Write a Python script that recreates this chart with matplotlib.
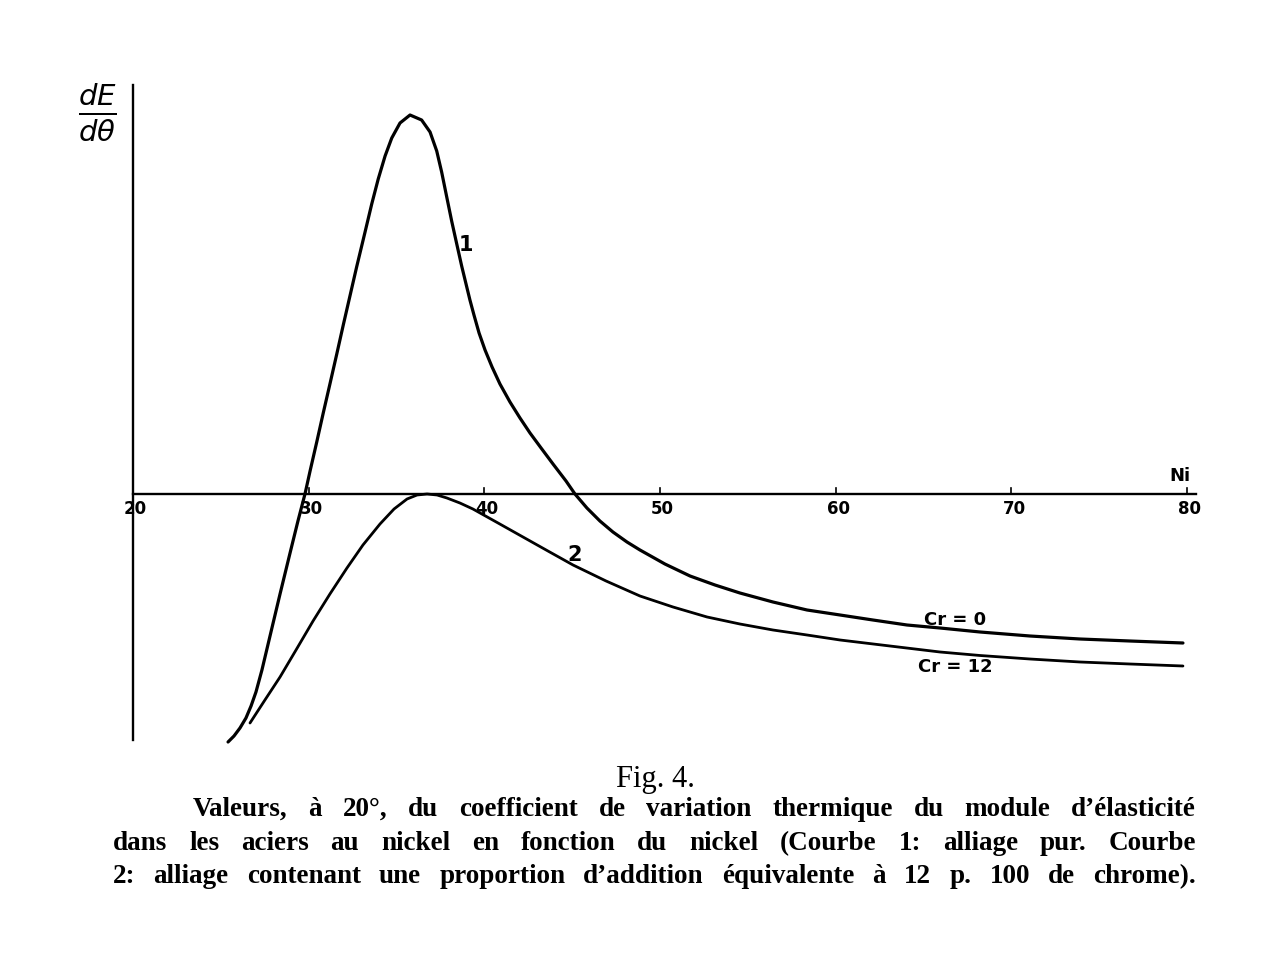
import numpy as np
import matplotlib.pyplot as plt

# curve 1: pure alloy (Cr = 0), Ni in %, dE/dtheta in arbitrary units
ni_1 = [25.41, 25.75, 26.09, 26.43, 26.72, 27.00, 27.34, 27.80, 28.37, 28.94, 29.39,
        29.79, 30.08, 30.46, 30.83, 31.21, 31.60, 31.97, 32.35, 32.73, 33.21, 33.59,
        33.96, 34.35, 34.73, 35.20, 35.77, 36.43, 36.91, 37.29, 37.57, 37.86, 38.14,
        38.43, 38.71, 39.00, 39.18, 39.41, 39.70, 40.04, 40.44, 40.89, 41.46, 42.03,
        42.60, 43.23, 43.91, 44.65, 45.16, 45.84, 46.58, 47.32, 48.12, 48.86, 50.28,
        51.71, 53.13, 54.55, 56.43, 58.37, 60.25, 62.12, 64.06, 65.94, 68.22, 71.06,
        73.91, 76.75, 79.77]
de_1 = [-2.48, -2.42, -2.34, -2.24, -2.12, -1.98, -1.76, -1.42, -1.00, -0.59, -0.27,
        0.00, 0.23, 0.52, 0.81, 1.10, 1.40, 1.69, 1.98, 2.27, 2.62, 2.90,
        3.15, 3.38, 3.56, 3.71, 3.79, 3.74, 3.62, 3.43, 3.22, 2.97, 2.73,
        2.50, 2.28, 2.07, 1.94, 1.79, 1.61, 1.44, 1.27, 1.10, 0.92, 0.76,
        0.61, 0.46, 0.30, 0.13, 0.00, -0.14, -0.27, -0.38, -0.48, -0.56, -0.70,
        -0.82, -0.91, -0.99, -1.08, -1.16, -1.21, -1.26, -1.31, -1.34, -1.38, -1.42,
        -1.45, -1.47, -1.49]

# curve 2: alloy with 12 p. 100 chrome
ni_2 = [26.66, 27.51, 28.37, 29.28, 30.25, 31.21, 32.18, 33.09, 34.06, 34.86, 35.60,
        36.17, 36.74, 37.31, 37.87, 38.61, 39.35, 40.78, 42.20, 43.62, 45.05, 46.93,
        48.86, 50.74, 52.68, 54.55, 56.43, 58.37, 60.25, 63.09, 65.94, 68.22, 71.06,
        73.91, 76.75, 79.77]
de_2 = [-2.29, -2.06, -1.83, -1.56, -1.27, -1.00, -0.74, -0.51, -0.30, -0.15, -0.05,
        -0.01, 0.00, -0.01, -0.04, -0.09, -0.15, -0.29, -0.43, -0.57, -0.71, -0.87,
        -1.02, -1.13, -1.23, -1.30, -1.36, -1.41, -1.46, -1.52, -1.58, -1.615, -1.65,
        -1.68, -1.70, -1.72]

xticks = [20, 30, 40, 50, 60, 70, 80]

caption = [
    "Valeurs, à 20°, du coefficient de variation thermique du module d’élasticité",
    "dans les aciers au nickel en fonction du nickel (Courbe 1: alliage pur. Courbe",
    "2: alliage contenant une proportion d’addition équivalente à 12 p. 100 de chrome).",
]

W, H = 1280, 969
fig = plt.figure(figsize=(W / 100, H / 100), dpi=100)
ax = fig.add_axes([133 / W, 1 - 740 / H, (1187 - 133) / W, (740 - 85) / H])
ax.set_xlim(20, 80)
ax.set_ylim(-2.46, 4.09)
ax.axis('off')

# axes drawn by hand
ax.plot([20, 80.5], [0, 0], color='black', lw=1.7, clip_on=False)
ax.plot([20, 20], [-2.46, 4.09], color='black', lw=1.7, clip_on=False)
for t in xticks[1:]:
    ax.plot([t, t], [0, 0.06], color='black', lw=1.2, clip_on=False)

hand = dict(family='DejaVu Sans', fontweight='bold', color='black')
for t in xticks:
    ax.text(t + 0.15, -0.15, str(t), ha='center', va='center', fontsize=12, **hand)
ax.text(79.6, 0.18, "Ni", ha='center', va='center', fontsize=13, **hand)

ax.plot(ni_1, de_1, color='black', lw=2.3, clip_on=False,
        solid_capstyle='round', solid_joinstyle='round')
ax.plot(ni_2, de_2, color='black', lw=2.0, clip_on=False,
        solid_capstyle='round', solid_joinstyle='round')

ax.text(38.95, 2.49, "1", ha='center', va='center', fontsize=15, **hand)
ax.text(45.16, -0.61, "2", ha='center', va='center', fontsize=15, **hand)
ax.text(66.8, -1.26, "Cr = 0", ha='center', va='center', fontsize=13, **hand)
ax.text(66.8, -1.73, "Cr = 12", ha='center', va='center', fontsize=13, **hand)

fig.text(97 / W, 1 - 112 / H, r"$\frac{dE}{d\theta}$", ha='center', va='center',
         fontsize=30, color='black')

fig.text(655 / W, 1 - 787 / H, "Fig. 4.", ha='center', va='baseline',
         family='Liberation Serif', fontsize=22)


def justify(line, x0, x1, ybase):
    r = fig.canvas.get_renderer()
    words = line.split(' ')
    arts = [fig.text(0, 1 - ybase / H, w, va='baseline', family='Liberation Serif',
                     fontweight='bold', fontsize=19.5) for w in words]
    widths = [a.get_window_extent(r).width for a in arts]
    gap = (x1 - x0 - sum(widths)) / (len(words) - 1)
    x = x0
    for a, w in zip(arts, widths):
        a.set_x(x / W)
        x += w + gap


justify(caption[0], 193, 1196, 816)
justify(caption[1], 113, 1196, 850)
justify(caption[2], 113, 1196, 883)

fig.savefig("out.png", dpi=100, facecolor='white')
